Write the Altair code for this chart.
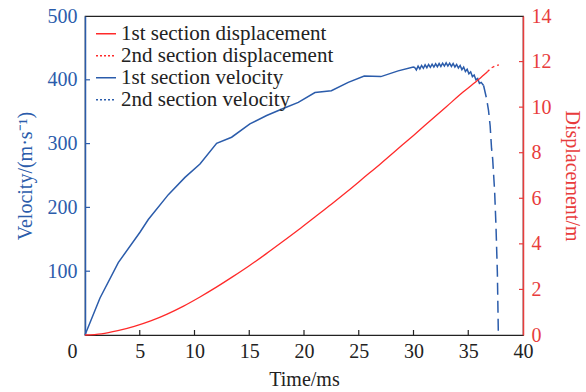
import altair as alt
import pandas as pd

# ---- data -------------------------------------------------------------
series_names = [
    "1st section displacement",
    "2nd section displacement",
    "1st section velocity",
    "2nd section velocity",
]

vel1_t = [0, 1.37, 3.04, 5.02, 5.78, 7.61, 9.13, 10.5, 12.02, 13.39, 15.06, 16.59,
          18.1, 19.48, 21.0, 22.5, 24.04, 25.5, 27.02, 28.6, 29.98,
          30.10, 30.26, 30.42, 30.58, 30.74, 30.90, 31.06, 31.22, 31.38, 31.54,
          31.70, 31.86, 32.02, 32.18, 32.34, 32.50, 32.66, 32.82, 32.98, 33.14,
          33.30, 33.46, 33.62, 33.78, 33.94, 34.10, 34.26, 34.42, 34.58, 34.74,
          34.90, 35.06, 35.22, 35.38, 35.54, 35.70, 35.86, 36.02, 36.18, 36.40]
vel1_v = [0, 58, 113.5, 161, 181, 220, 247, 268, 300.5, 310, 331, 344,
          355, 364.6, 380, 383, 396, 406, 405, 414, 420,
          419.5, 415.5, 421.5, 417.0, 422.5, 418.0, 423.5, 419.0, 424.0, 419.5,
          424.5, 420.0, 425.0, 420.5, 425.5, 421.0, 426.0, 421.5, 426.5, 421.5,
          426.0, 421.0, 425.5, 420.0, 424.0, 418.5, 422.5, 416.0, 420.0, 413.0,
          416.5, 409.5, 412.5, 405.0, 407.5, 400.0, 402.0, 394.5, 396.0, 391.0]

vel2_t = [36.40, 36.68, 36.85, 37.0, 37.13, 37.23, 37.41, 37.53, 37.66, 37.75]
vel2_v = [391, 370, 352, 328, 292, 276, 225, 172, 97, 0]

disp1_t = [0, 1.5, 3.0, 4.5, 6.0, 7.5, 9.0, 10.5, 12.0, 13.5, 15.0, 16.5, 18.0,
           19.5, 21.0, 22.5, 24.0, 25.5, 27.0, 28.5, 30.0, 31.5, 33.0, 34.5,
           36.0, 36.74]
disp1_d = [0, 0.05, 0.19, 0.38, 0.62, 0.92, 1.27, 1.67, 2.10, 2.56, 3.04, 3.55,
           4.08, 4.62, 5.18, 5.74, 6.32, 6.92, 7.52, 8.14, 8.76, 9.39, 10.02,
           10.65, 11.24, 11.55]

disp2_t = [36.74, 37.1, 37.45, 37.8]
disp2_d = [11.55, 11.72, 11.81, 11.86]

x_ticks = [5, 10, 15, 20, 25, 30, 35]
v_ticks = [100, 200, 300, 400]
d_ticks = [2, 4, 6, 8, 10, 12]

# ---- styling ----------------------------------------------------------
BLUE = "#2b5cab"
RED = "#ff2a2a"
RED_AXIS = "#e83c3c"
DARK = "#222222"
FONT = "Liberation Serif"
W, H = 438, 319

vel = pd.concat([
    pd.DataFrame({"t": vel1_t, "v": vel1_v, "series": series_names[2]}),
    pd.DataFrame({"t": vel2_t, "v": vel2_v, "series": series_names[3]}),
])
disp = pd.concat([
    pd.DataFrame({"t": disp1_t, "d": disp1_d, "series": series_names[0]}),
    pd.DataFrame({"t": disp2_t, "d": disp2_d, "series": series_names[1]}),
])

x_scale = alt.Scale(domain=[0, 40], nice=False, zero=False)
v_scale = alt.Scale(domain=[0, 500], nice=False)
d_scale = alt.Scale(domain=[0, 14], nice=False)

x_axis = alt.Axis(
    title="Time/ms", values=list(range(0, 41, 5)), tickSize=0, labelFlush=False,
    labelPadding=6, labelOffset={"condition": {"test": "datum.value == 0", "value": -13}, "value": 0},
    domainColor=DARK, labelColor=DARK, titleColor=DARK, titlePadding=8,
    domainWidth=1.2,
)
v_axis = alt.Axis(
    title="Velocity/(m·s⁻¹)", values=[0, 100, 200, 300, 400, 500], tickSize=0,
    labelExpr="datum.value == 0 ? '' : datum.label", labelPadding=8,
    domainColor=BLUE, labelColor=BLUE, titleColor=BLUE, titlePadding=12,
    domainWidth=1.5, grid=False,
)
d_axis = alt.Axis(
    title="Displacement/m", orient="right", values=list(range(0, 15, 2)), tickSize=0,
    labelPadding=8, domainColor=RED_AXIS, labelColor=RED_AXIS, titleColor=RED_AXIS,
    titlePadding=10, domainWidth=1.5, grid=False,
)

legend = alt.Legend(
    title=None, orient="none", legendX=10, legendY=8, padding=0,
    symbolType="stroke", symbolSize=400, symbolStrokeWidth=1.5,
    labelFont=FONT, labelFontSize=21, labelColor=DARK, labelOffset=4,
    rowPadding=0, clipHeight=19.5, labelLimit=400,
)

X = alt.X("t:Q", scale=x_scale, axis=x_axis)

# velocity layers (left axis)
vel_solid = alt.Chart(vel).transform_filter(
    alt.datum.series == series_names[2]
).mark_line(color=BLUE, strokeWidth=1.5).encode(
    x=X, y=alt.Y("v:Q", scale=v_scale, axis=v_axis)
)
vel_dash = alt.Chart(vel).transform_filter(
    alt.datum.series == series_names[3]
).mark_line(color=BLUE, strokeWidth=1.5, strokeDash=[12, 6]).encode(
    x=X, y=alt.Y("v:Q", scale=v_scale)
)
# legend entries only (no rows pass the filter)
vel_legend = alt.Chart(vel).transform_filter("datum.t < 0").mark_line().encode(
    x=X, y=alt.Y("v:Q", scale=v_scale),
    color=alt.Color("series:N", scale=alt.Scale(domain=series_names, range=[RED, RED, BLUE, BLUE]), legend=legend),
    strokeDash=alt.StrokeDash("series:N", scale=alt.Scale(domain=series_names, range=[[1, 0], [2, 2], [1, 0], [2, 2]]), legend=legend),
)
vel_ticks = alt.Chart(pd.DataFrame({"v": v_ticks})).mark_rule(color=BLUE, strokeWidth=1.2).encode(
    y=alt.Y("v:Q", scale=v_scale), x=alt.value(0), x2=alt.value(5)
)
x_tick_marks = alt.Chart(pd.DataFrame({"t": x_ticks})).mark_rule(color=DARK, strokeWidth=1.2).encode(
    x=alt.X("t:Q", scale=x_scale), y=alt.value(H), y2=alt.value(H - 5)
)

# displacement layers (right axis)
disp_solid = alt.Chart(disp).transform_filter(
    alt.datum.series == series_names[0]
).mark_line(color=RED, strokeWidth=1.3, interpolate="monotone").encode(
    x=X, y=alt.Y("d:Q", scale=d_scale, axis=d_axis)
)
disp_dot = alt.Chart(disp).transform_filter(
    alt.datum.series == series_names[1]
).mark_line(color=RED, strokeWidth=1.3, strokeDash=[3, 3]).encode(
    x=X, y=alt.Y("d:Q", scale=d_scale)
)
d_tick_marks = alt.Chart(pd.DataFrame({"d": d_ticks})).mark_rule(color=RED_AXIS, strokeWidth=1.2).encode(
    y=alt.Y("d:Q", scale=d_scale), x=alt.value(W), x2=alt.value(W - 4)
)

velocity_layer = alt.layer(vel_ticks, x_tick_marks, vel_solid, vel_dash, vel_legend)
displacement_layer = alt.layer(d_tick_marks, disp_solid, disp_dot)

chart = alt.layer(velocity_layer, displacement_layer).resolve_scale(
    y="independent"
).properties(
    width=W, height=H,
    autosize=alt.AutoSizeParams(type="none"),
    padding={"left": 85, "top": 16, "right": 586 - 85 - W, "bottom": 392 - 16 - H},
    background="white",
).configure_view(
    stroke=DARK, strokeWidth=1.2
).configure_axis(
    labelFont=FONT, titleFont=FONT, labelFontSize=20, titleFontSize=20,
    titleFontWeight="normal", grid=False,
)

chart.save("out.html", embed_options={"renderer": "svg", "actions": False})
